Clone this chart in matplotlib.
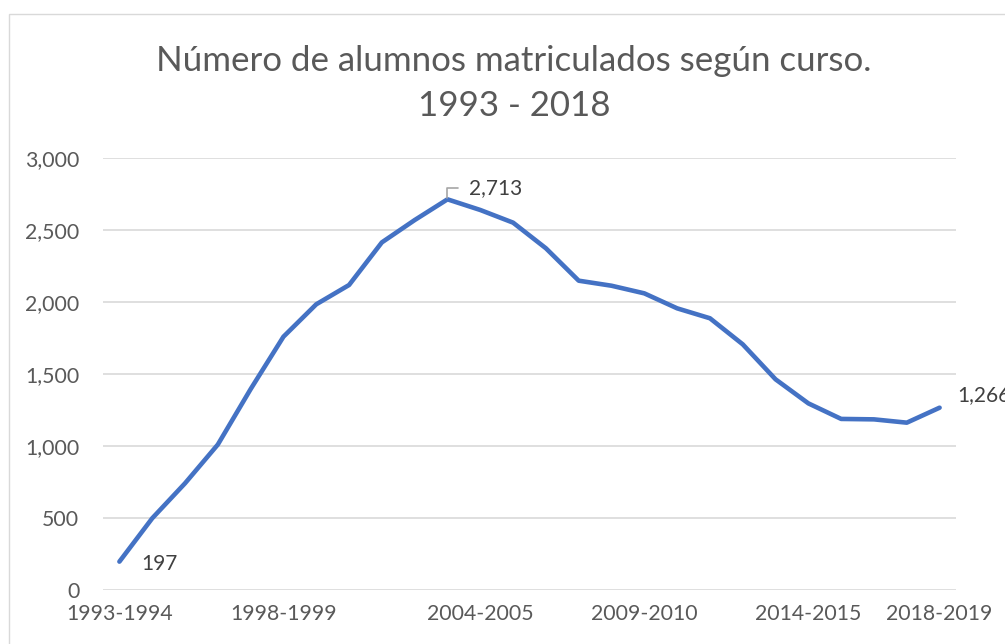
import matplotlib
matplotlib.use("Agg")
import matplotlib.pyplot as plt
from matplotlib.patches import Rectangle

categories = ["1993-1994", "1994-1995", "1995-1996", "1996-1997", "1997-1998",
              "1998-1999", "1999-2000", "2000-2001", "2001-2002", "2002-2003",
              "2003-2004", "2004-2005", "2005-2006", "2006-2007", "2007-2008",
              "2008-2009", "2009-2010", "2010-2011", "2011-2012", "2012-2013",
              "2013-2014", "2014-2015", "2015-2016", "2016-2017", "2017-2018",
              "2018-2019"]
alumnos = [197, 498, 741, 1010, 1395, 1759, 1984, 2118, 2414, 2569,
           2713, 2639, 2551, 2373, 2148, 2113, 2060, 1956, 1887, 1706,
           1463, 1296, 1188, 1185, 1162, 1266]
shown_ticks = ["1993-1994", "1998-1999", "2004-2005", "2009-2010", "2014-2015", "2018-2019"]
yticks = [0, 500, 1000, 1500, 2000, 2500, 3000]
title_line1 = "Número de alumnos matriculados según curso."
title_line2 = "1993 - 2018"

FONT = "Lato"
W, H = 1005, 644
fig = plt.figure(figsize=(W / 100, H / 100), dpi=100)
fig.patch.set_facecolor("white")

# chart-area border (cropped on right and bottom)
fig.patches.append(Rectangle((8.5 / W, -0.2), 1.3, 1 - 14.5 / H + 0.2,
                             transform=fig.transFigure, fill=False,
                             edgecolor="#d9d9d9", linewidth=1.0))

ax = fig.add_axes([103 / W, 1 - 590 / H, (956 - 103) / W, (590 - 158) / H])
x = list(range(len(categories)))
ax.plot(x, alumnos, color="#4472C4", linewidth=3.3, solid_capstyle="round",
        solid_joinstyle="round", zorder=3)

ax.set_xlim(-0.5, len(categories) - 0.5)
ax.set_ylim(0, 3000)
ax.set_yticks(yticks)
ax.set_yticklabels([f"{v:,}" for v in yticks])
ax.set_xticks([categories.index(c) for c in shown_ticks])
ax.set_xticklabels(shown_ticks)
ax.grid(axis="y", color="#d9d9d9", linewidth=1.2)
ax.set_axisbelow(True)
for s in ax.spines.values():
    s.set_visible(False)
ax.tick_params(axis="both", length=0, labelsize=15.3, labelcolor="#595959")
ax.tick_params(axis="y", pad=17)
ax.tick_params(axis="x", pad=10)
for lab in ax.get_xticklabels() + ax.get_yticklabels():
    lab.set_fontfamily(FONT)

fig.text(514 / W, 1 - 71 / H, title_line1, ha="center", va="baseline",
         fontsize=25.1, color="#595959", family=FONT)
fig.text(514 / W, 1 - 116 / H, title_line2, ha="center", va="baseline",
         fontsize=25.1, color="#595959", family=FONT)

lab_kw = dict(textcoords="offset pixels", fontsize=15, color="#404040",
              family=FONT, ha="left", va="center", annotation_clip=False)
i0 = 0
ax.annotate(f"{alumnos[i0]:,}", (i0, alumnos[i0]), xytext=(22, -2), **lab_kw)
ipk = alumnos.index(max(alumnos))
ax.annotate(f"{alumnos[ipk]:,}", (ipk, alumnos[ipk]), xytext=(22, 11),
            arrowprops=dict(arrowstyle="-", color="#a6a6a6", linewidth=1.2,
                            connectionstyle="angle,angleA=0,angleB=90,rad=0",
                            shrinkA=6, shrinkB=1),
            **lab_kw)
il = len(alumnos) - 1
ax.annotate(f"{alumnos[il]:,}", (il, alumnos[il]), xytext=(18, 13), **lab_kw)

fig.savefig("out.png", dpi=100, facecolor="white")
